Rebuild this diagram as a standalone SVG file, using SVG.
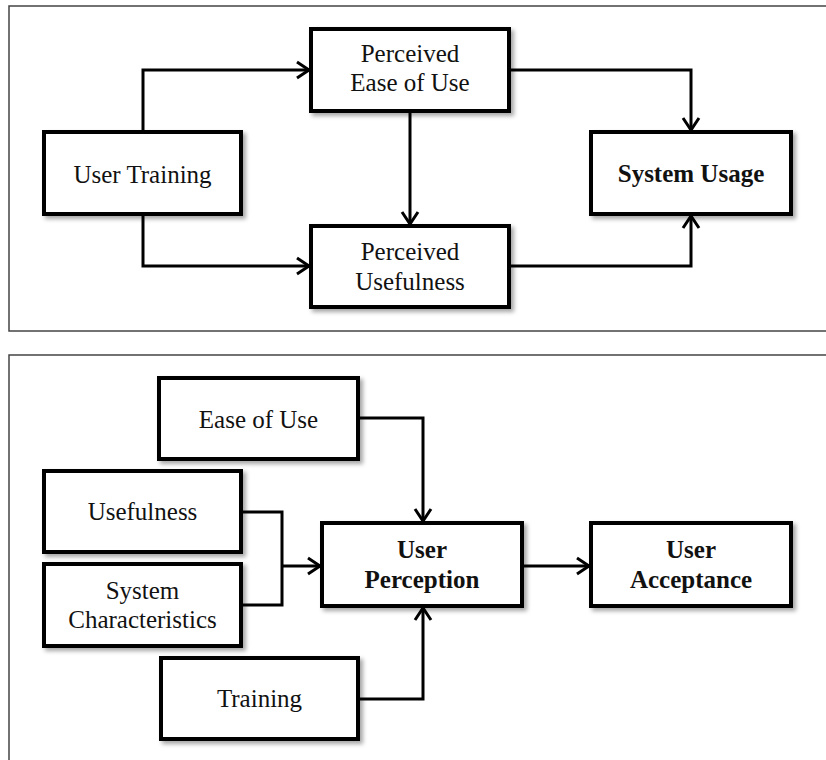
<svg xmlns="http://www.w3.org/2000/svg" width="826" height="760" viewBox="0 0 826 760">
<style>
.panel{fill:#fff;stroke:#444;stroke-width:1.5}
.box{fill:#fff;stroke:#000;stroke-width:4;filter:url(#sh)}
.lbl{font-family:'Times New Roman','Liberation Serif',Tinos,'Noto Serif',serif;font-size:25px;fill:#111;text-anchor:middle}
.b{font-weight:bold}
.con{fill:none;stroke:#000;stroke-width:3;marker-end:url(#ah)}
</style>
<defs>
<filter id="sh" x="-10%" y="-10%" width="130%" height="140%">
<feDropShadow dx="3" dy="3" stdDeviation="2" flood-color="#000" flood-opacity="0.35"/>
</filter>
<marker id="ah" markerUnits="userSpaceOnUse" markerWidth="22" markerHeight="22" viewBox="0 0 22 22" refX="16" refY="11" orient="auto">
<path d="M4,3 L16,11 L4,19" fill="none" stroke="#000" stroke-width="3"/>
</marker>
</defs>
<rect width="826" height="760" fill="#fff"/>
<rect class="panel" x="9" y="6" width="830" height="325"/>
<rect class="panel" x="9" y="355" width="830" height="420"/>

<g id="connectors">
<path class="con" d="M143,132 V70 H309"/>
<path class="con" d="M143,214 V266 H309"/>
<path class="con" d="M410,111 V224"/>
<path class="con" d="M509,70 H691 V130"/>
<path class="con" d="M509,266 H691 V216"/>
<path class="con" d="M358,418 H423 V521"/>
<path fill="none" stroke="#000" stroke-width="3" d="M241,512 H282 V605 H241"/>
<path class="con" d="M282,566 H320"/>
<path class="con" d="M358,699 H423 V608"/>
<path class="con" d="M522,566 H589"/>
</g>

<g id="user-training">
<rect class="box" x="44" y="132" width="197" height="82"/>
<text class="lbl" x="142.5" y="183">User Training</text>
</g>
<g id="perceived-ease">
<rect class="box" x="311" y="29" width="198" height="82"/>
<text class="lbl" x="410" y="62">Perceived</text>
<text class="lbl" x="410" y="91">Ease of Use</text>
</g>
<g id="perceived-usefulness">
<rect class="box" x="311" y="226" width="198" height="81"/>
<text class="lbl" x="410" y="260">Perceived</text>
<text class="lbl" x="410" y="290">Usefulness</text>
</g>
<g id="system-usage">
<rect class="box" x="591" y="132" width="200" height="82"/>
<text class="lbl b" x="691" y="182">System Usage</text>
</g>

<g id="ease-of-use">
<rect class="box" x="159" y="378" width="199" height="81"/>
<text class="lbl" x="258.5" y="428">Ease of Use</text>
</g>
<g id="usefulness">
<rect class="box" x="44" y="471" width="197" height="81"/>
<text class="lbl" x="142.5" y="520">Usefulness</text>
</g>
<g id="system-characteristics">
<rect class="box" x="44" y="564" width="197" height="82"/>
<text class="lbl" x="142.5" y="599">System</text>
<text class="lbl" x="142.5" y="628">Characteristics</text>
</g>
<g id="training">
<rect class="box" x="161" y="658" width="197" height="81"/>
<text class="lbl" x="259.5" y="707">Training</text>
</g>
<g id="user-perception">
<rect class="box" x="322" y="523" width="200" height="83"/>
<text class="lbl b" x="422" y="558">User</text>
<text class="lbl b" x="422" y="588">Perception</text>
</g>
<g id="user-acceptance">
<rect class="box" x="591" y="523" width="200" height="83"/>
<text class="lbl b" x="691" y="558">User</text>
<text class="lbl b" x="691" y="588">Acceptance</text>
</g>
</svg>
